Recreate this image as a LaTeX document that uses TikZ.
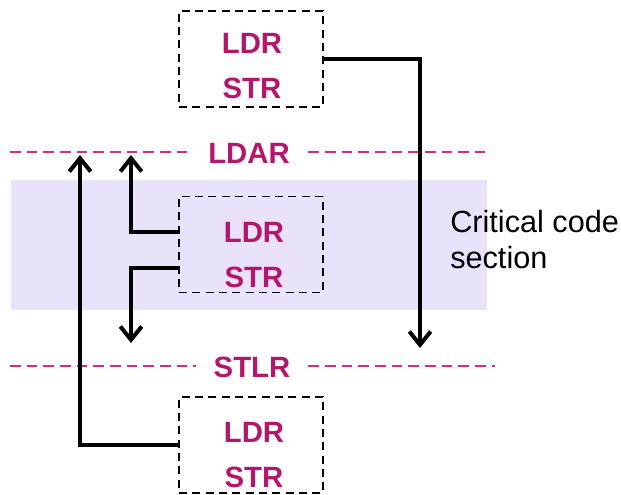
\documentclass[tikz,border=0pt]{standalone}
\usepackage{fontspec}
\setmainfont{Liberation Sans}
\usetikzlibrary{arrows.meta,calc}
\definecolor{mag}{HTML}{B3166B}
\definecolor{sepc}{HTML}{D02E82}
\definecolor{crit}{HTML}{EAE1FA}
\tikzset{
  codebox/.style={draw=black,line width=1.2pt,dash pattern=on 6pt off 4pt,minimum width=108pt,minimum height=72pt,inner sep=0pt},
  instr/.style={text=mag,font=\fontsize{22}{24}\selectfont\bfseries,inner sep=0pt},
  barrier/.style={text=mag,font=\fontsize{22}{24}\selectfont\bfseries,inner sep=0pt,minimum height=20pt},
  sepline/.style={draw=sepc,line width=1pt,dash pattern=on 8pt off 4.5pt},
  conn/.style={draw=black,line width=2.8pt},
  arr/.style={conn,-{Straight Barb[length=10pt,width=16pt,line width=3pt]}},
}
\begin{document}
\begin{tikzpicture}[x=0.75pt,y=-0.75pt]
\useasboundingbox (0,0) rectangle (621,495);
% critical section background
\fill[crit] (11,180) rectangle (487,310);
\node[align=left,anchor=west,font=\fontsize{23}{27}\selectfont,inner sep=0pt] (crit) at (450,240) {Critical code\\section};
% boxes
\node[codebox] (box1) at (251,59) {};
\node[instr] (l1) at (252,43) {LDR};
\node[instr] (s1) at (252,88) {STR};
\node[codebox] (box2) at (251,244.5) {};
\node[instr] (l2) at (254,232) {LDR};
\node[instr] (s2) at (254,277) {STR};
\node[codebox] (box3) at (251,445) {};
\node[instr] (l3) at (254,432) {LDR};
\node[instr] (s3) at (254,477) {STR};
% barriers
\node[barrier,minimum width=88.5pt] (ldar) at (249,153) {LDAR};
\node[barrier,minimum width=84pt] (stlr) at (252,367) {STLR};
\coordinate (ldarL) at (10,152);
\coordinate (ldarR) at (485,152);
\coordinate (stlrL) at (10,366);
\coordinate (stlrR) at (495,366);
\draw[sepline] (ldarL) -- (ldar.west |- ldarL);
\draw[sepline] (ldar.east |- ldarR) -- (ldarR);
\draw[sepline] (stlrL) -- (stlr.west |- stlrL);
\draw[sepline] (stlr.east |- stlrR) -- (stlrR);
% connectors
\coordinate (t1) at (420,348);
\coordinate (t2) at (131,155);
\coordinate (t3) at (131,343);
\coordinate (t4) at (80,155);
\draw[arr] (box1.east) -| (t1);
\draw[arr] (box2.west |- l2) -| (t2);
\draw[arr] ($(box2.west)+(0,23.5)$) -| (t3);
\draw[arr] (box3.west) -| (t4);
\end{tikzpicture}
\end{document}
